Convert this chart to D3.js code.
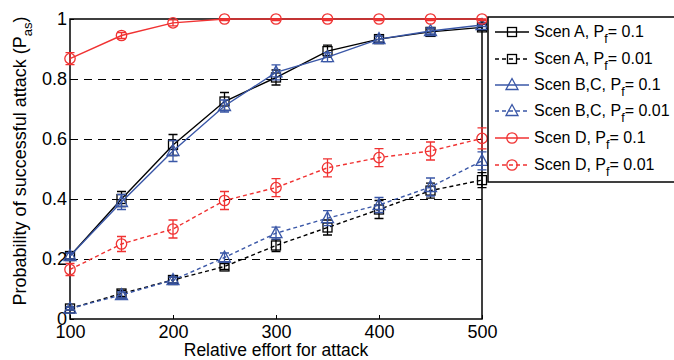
<!DOCTYPE html>
<html>
<head>
<meta charset="utf-8">
<script src="https://cdn.jsdelivr.net/npm/d3@7"></script>
<style>
  body { margin: 0; background: #fff; }
  svg { display: block; font-family: "Liberation Sans", Arial, sans-serif; }
</style>
</head>
<body>
<div id="chart"></div>
<script>
const efforts = [100, 150, 200, 250, 300, 350, 400, 450, 500];
const yTicks = [0, 0.2, 0.4, 0.6, 0.8, 1];

const scenA_01 = [0.21, 0.40, 0.58, 0.725, 0.805, 0.893, 0.933, 0.957, 0.972];
const scenA_001 = [0.035, 0.085, 0.13, 0.175, 0.245, 0.305, 0.365, 0.428, 0.463];
const scenBC_01 = [0.21, 0.39, 0.56, 0.71, 0.822, 0.873, 0.933, 0.96, 0.98];
const scenBC_001 = [0.035, 0.08, 0.13, 0.205, 0.286, 0.336, 0.38, 0.44, 0.527];
const scenD_01 = [0.868, 0.945, 0.987, 1.0, 1.0, 1.0, 1.0, 1.0, 1.0];
const scenD_001 = [0.165, 0.25, 0.30, 0.395, 0.438, 0.504, 0.538, 0.56, 0.602];

const errA_01 = [0.01, 0.025, 0.035, 0.03, 0.025, 0.02, 0.01, 0.01, 0.01];
const errA_001 = [0.005, 0.01, 0.01, 0.01, 0.02, 0.025, 0.03, 0.025, 0.025];
const errBC_01 = [0.01, 0.025, 0.035, 0.02, 0.025, 0.015, 0.01, 0.01, 0.005];
const errBC_001 = [0.005, 0.01, 0.01, 0.015, 0.02, 0.025, 0.025, 0.03, 0.03];
const errD_01 = [0.02, 0.01, 0.01, 0.005, 0.005, 0.005, 0.005, 0.005, 0.005];
const errD_001 = [0.02, 0.025, 0.03, 0.03, 0.03, 0.03, 0.03, 0.03, 0.035];

const red = '#f03232', blue = '#3a57a7', black = '#000';

const series = [
  { name: 'Scen A, P', sub: 'f', tail: '= 0.1', values: scenA_01, err: errA_01, color: black, dash: null, marker: 'square' },
  { name: 'Scen A, P', sub: 'f', tail: '= 0.01', values: scenA_001, err: errA_001, color: black, dash: '4,3', marker: 'square' },
  { name: 'Scen B,C, P', sub: 'f', tail: '= 0.1', values: scenBC_01, err: errBC_01, color: blue, dash: null, marker: 'triangle' },
  { name: 'Scen B,C, P', sub: 'f', tail: '= 0.01', values: scenBC_001, err: errBC_001, color: blue, dash: '4,3', marker: 'triangle' },
  { name: 'Scen D, P', sub: 'f', tail: '= 0.1', values: scenD_01, err: errD_01, color: red, dash: null, marker: 'circle' },
  { name: 'Scen D, P', sub: 'f', tail: '= 0.01', values: scenD_001, err: errD_001, color: red, dash: '4,3', marker: 'circle' }
];

const W = 674, H = 360;
const margin = { top: 19, right: 192, bottom: 41, left: 70 };
const width = W - margin.left - margin.right;
const height = H - margin.top - margin.bottom;

const svg = d3.select('#chart').append('svg')
  .attr('width', W)
  .attr('height', H);

const g = svg.append('g')
  .attr('transform', `translate(${margin.left},${margin.top})`);

const x = d3.scaleLinear().domain([100, 500]).range([0, width]);
const y = d3.scaleLinear().domain([0, 1]).range([height, 0]);

// dashed horizontal grid
g.selectAll('.grid')
  .data(yTicks.filter(t => t > 0 && t < 1))
  .enter().append('line')
  .attr('x1', 0).attr('x2', width)
  .attr('y1', d => Math.round(y(d)) + 0.5).attr('y2', d => Math.round(y(d)) + 0.5)
  .attr('stroke', '#000')
  .attr('stroke-width', 1)
  .attr('stroke-dasharray', '8,6');

// axes
const xAxis = g.append('g')
  .attr('transform', `translate(0,${height})`)
  .call(d3.axisBottom(x).tickValues([100, 200, 300, 400, 500]).tickSizeInner(-4).tickSizeOuter(0).tickPadding(6));
const yAxis = g.append('g')
  .call(d3.axisLeft(y).tickValues(yTicks).tickFormat(d3.format('~g')).tickSizeInner(-4).tickSizeOuter(0).tickPadding(3));

[xAxis, yAxis].forEach(a => {
  a.select('.domain').remove();
  a.selectAll('.tick line').attr('stroke', '#000');
  a.selectAll('text').style('font-size', '18px').style('fill', '#000')
    .style('font-family', '"Liberation Sans", Arial, sans-serif');
});

// box
g.append('rect')
  .attr('width', width).attr('height', height)
  .attr('fill', 'none').attr('stroke', '#000').attr('stroke-width', 1.5);

function drawMarker(sel, type, color, cx, cy) {
  if (type === 'square') {
    sel.append('rect').attr('x', cx - 4.5).attr('y', cy - 4.5).attr('width', 9).attr('height', 9)
      .attr('fill', 'none').attr('stroke', color).attr('stroke-width', 1.3);
  } else if (type === 'triangle') {
    sel.append('path')
      .attr('d', `M${cx},${cy - 6.5}L${cx + 6},${cy + 4.5}L${cx - 6},${cy + 4.5}Z`)
      .attr('fill', 'none').attr('stroke', color).attr('stroke-width', 1.3);
  } else {
    sel.append('circle').attr('cx', cx).attr('cy', cy).attr('r', 5.2)
      .attr('fill', 'none').attr('stroke', color).attr('stroke-width', 1.3);
  }
}

const line = d3.line().x((d, i) => x(efforts[i])).y(d => y(d));

series.forEach(s => {
  const sg = g.append('g');
  sg.append('path')
    .datum(s.values)
    .attr('fill', 'none')
    .attr('stroke', s.color)
    .attr('stroke-width', 1.4)
    .attr('stroke-dasharray', s.dash)
    .attr('d', line);

  s.values.forEach((v, i) => {
    const cx = x(efforts[i]);
    const top = y(Math.min(v + s.err[i], 1)), bot = y(v - s.err[i]);
    sg.append('path')
      .attr('d', `M${cx},${top}V${bot}M${cx - 4.5},${top}H${cx + 4.5}M${cx - 4.5},${bot}H${cx + 4.5}`)
      .attr('fill', 'none').attr('stroke', s.color).attr('stroke-width', 1.3);
    drawMarker(sg, s.marker, s.color, cx, y(v));
  });
});

// axis titles
svg.append('text')
  .attr('x', margin.left + width / 2).attr('y', 356)
  .attr('text-anchor', 'middle')
  .style('font-size', '17.5px')
  .text('Relative effort for attack');

const yt = svg.append('text')
  .attr('transform', `translate(26,${margin.top + height / 2 - 8}) rotate(-90)`)
  .attr('text-anchor', 'middle')
  .style('font-size', '18px');
yt.append('tspan').text('Probability of successful attack (P');
yt.append('tspan').attr('dy', 6).style('font-size', '13px').text('as');
yt.append('tspan').attr('dy', -6).text(')');

// legend
const lg = svg.append('g').attr('transform', 'translate(488,17)');
lg.append('rect')
  .attr('width', 200).attr('height', 165)
  .attr('fill', '#fff').attr('stroke', '#000').attr('stroke-width', 1.5);

const rowY = [15, 42, 68, 94, 121, 148];
series.forEach((s, i) => {
  const row = lg.append('g').attr('transform', `translate(0,${rowY[i]})`);
  row.append('line')
    .attr('x1', 7).attr('x2', 41).attr('y1', 0).attr('y2', 0)
    .attr('stroke', s.color).attr('stroke-width', 1.4)
    .attr('stroke-dasharray', s.dash);
  drawMarker(row, s.marker, s.color, 24, 0);
  const t = row.append('text').attr('x', 46).attr('y', 5).style('font-size', '16px');
  t.append('tspan').text(s.name);
  t.append('tspan').attr('dy', 6).style('font-size', '12.5px').text(s.sub);
  t.append('tspan').attr('dy', -6).text(s.tail);
});
</script>
</body>
</html>
